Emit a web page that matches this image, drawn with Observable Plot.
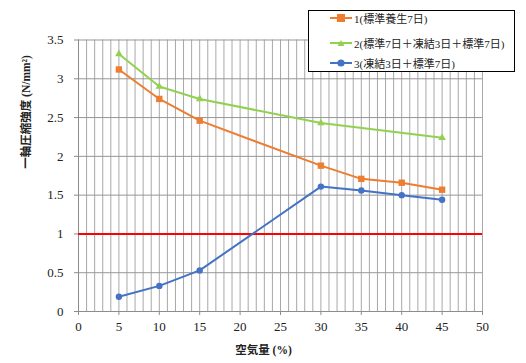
<!DOCTYPE html>
<html>
<head>
<meta charset="utf-8">
<script src="https://cdn.jsdelivr.net/npm/d3@7"></script>
<script src="https://cdn.jsdelivr.net/npm/@observablehq/plot@0.6"></script>
<style>
  html, body { margin: 0; padding: 0; background: #fff; }
  #wrap { position: relative; width: 526px; height: 363px; overflow: hidden; }
  #legend { position: absolute; left: 308px; top: 10px; width: 205px; height: 60px;
            border: 1.5px solid #000; background: #fff; box-sizing: content-box;
            font-family: "Liberation Serif", "Noto Sans CJK JP", serif; font-size: 11px; color: #222; }
  .entry { position: absolute; left: 21px; height: 12px; display: flex; align-items: center; white-space: nowrap; }
  .entry svg { margin-right: 2px; }
</style>
</head>
<body>
<div id="wrap"></div>
<script>
// ---- data ----
const seriesNames = ["1(標準養生7日)", "2(標準7日＋凍結3日＋標準7日)", "3(凍結3日＋標準7日)"];
const seriesColors = ["#ED7D31", "#92D050", "#4472C4"];
const seriesSymbols = ["square", "triangle", "circle"];
const air1 = [5, 10, 15, 30, 35, 40, 45];
const strength1 = [3.12, 2.74, 2.46, 1.88, 1.71, 1.66, 1.57];
const air2 = [5, 10, 15, 30, 45];
const strength2 = [3.32, 2.90, 2.74, 2.43, 2.24];
const air3 = [5, 10, 15, 30, 35, 40, 45];
const strength3 = [0.19, 0.33, 0.53, 1.61, 1.56, 1.50, 1.44];
const xTicks = [0, 5, 10, 15, 20, 25, 30, 35, 40, 45, 50];
const yTicks = [0, 0.5, 1, 1.5, 2, 2.5, 3, 3.5];
const threshold = 1;
const xTitle = "空気量 (%)";
const yTitle = "一軸圧縮強度 (N/mm²)";

const rows = [];
[[air1, strength1], [air2, strength2], [air3, strength3]].forEach(([xs, ys], i) => {
  xs.forEach((x, j) => rows.push({series: seriesNames[i], x, y: ys[j]}));
});

const font = '"Liberation Serif", "Noto Sans CJK JP", serif';
const chart = Plot.plot({
  width: 526, height: 363,
  marginLeft: 78, marginRight: 44, marginTop: 39.5, marginBottom: 52,
  style: {fontFamily: font, fontSize: "13px", color: "#222", background: "#fff"},
  x: {domain: [0, 50]},
  y: {domain: [0, 3.5]},
  color: {domain: seriesNames, range: seriesColors},
  symbol: {domain: seriesNames, range: seriesSymbols},
  marks: [
    Plot.gridX(d3.range(0, 51, 1), {stroke: "#a8a8a8", strokeOpacity: 1, strokeWidth: 1}),
    Plot.gridY(d3.range(0, 3.51, 0.5), {stroke: "#979797", strokeOpacity: 1, strokeWidth: 1}),
    Plot.ruleY([0], {stroke: "#8c8c8c"}),
    Plot.ruleX([0], {stroke: "#8c8c8c"}),
    Plot.axisX({ticks: xTicks, tickSize: 4, tickPadding: 6, stroke: "#8c8c8c", label: null, fontSize: 13}),
    Plot.axisY({ticks: yTicks, tickSize: 4, tickPadding: 11, tickFormat: d => String(d), stroke: "#8c8c8c", label: null, fontSize: 13}),
    Plot.ruleY([threshold], {stroke: "#FF0000", strokeWidth: 2}),
    Plot.line(rows, {x: "x", y: "y", z: "series", stroke: "series", strokeWidth: 2}),
    Plot.dot(rows, {x: "x", y: "y", symbol: "series", fill: "series", stroke: null,
      r: d => d.series === seriesNames[0] ? 4.6 : d.series === seriesNames[1] ? 2.8 : 3.6}),
    Plot.text([xTitle], {frameAnchor: "bottom", text: d => d, dx: -17, dy: 42, fontWeight: "bold", fontSize: 11.5, fill: "#222"}),
    Plot.text([yTitle], {frameAnchor: "left", text: d => d, dx: -52, dy: -7, rotate: -90, fontWeight: "bold", fontSize: 11.5, fill: "#222"})
  ]
});
const wrap = document.getElementById("wrap");
wrap.appendChild(chart);

// legend
const legend = document.createElement("div");
legend.id = "legend";
const symbolPaths = {
  square: '<rect x="7" y="2" width="8" height="8"/>',
  triangle: '<path d="M11 3 L14.5 9 L7.5 9 Z"/>',
  circle: '<circle cx="11" cy="6" r="3.6"/>'
};
const tops = [1, 26, 46];
seriesNames.forEach((name, i) => {
  const e = document.createElement("div");
  e.className = "entry";
  e.style.top = tops[i] + "px";
  e.innerHTML = `<svg width="22" height="12"><line x1="0" x2="22" y1="6" y2="6" stroke="${seriesColors[i]}" stroke-width="2"/>` +
    `<g fill="${seriesColors[i]}">${symbolPaths[seriesSymbols[i]]}</g></svg><span>${name}</span>`;
  legend.appendChild(e);
});
wrap.appendChild(legend);
</script>
</body>
</html>
